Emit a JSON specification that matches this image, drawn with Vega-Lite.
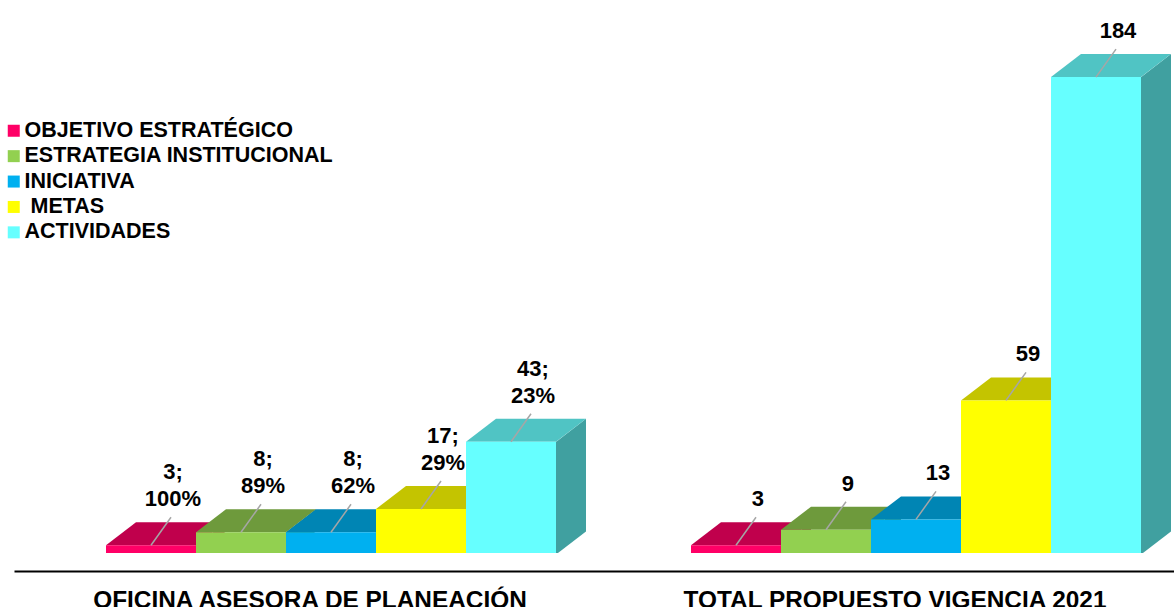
{
  "$schema": "https://vega.github.io/schema/vega-lite/v6.json",
  "width": 1160,
  "height": 553,
  "autosize": {"type": "none"},
  "padding": {"left": 14, "top": 0, "right": 0, "bottom": 54},
  "background": "#ffffff",
  "config": {"view": {"stroke": null}, "font": "Liberation Sans"},
  "data": {"values": [
    {"group": "OFICINA ASESORA DE PLANEACIÓN", "cat": "OBJETIVO ESTRATÉGICO", "value": 3, "label": "3;\n100%"},
    {"group": "OFICINA ASESORA DE PLANEACIÓN", "cat": "ESTRATEGIA INSTITUCIONAL", "value": 8, "label": "8;\n89%"},
    {"group": "OFICINA ASESORA DE PLANEACIÓN", "cat": "INICIATIVA", "value": 8, "label": "8;\n62%"},
    {"group": "OFICINA ASESORA DE PLANEACIÓN", "cat": "\u200b\u00a0METAS", "value": 17, "label": "17;\n29%"},
    {"group": "OFICINA ASESORA DE PLANEACIÓN", "cat": "ACTIVIDADES", "value": 43, "label": "43;\n23%"},
    {"group": "TOTAL PROPUESTO VIGENCIA 2021", "cat": "OBJETIVO ESTRATÉGICO", "value": 3, "label": "\n3"},
    {"group": "TOTAL PROPUESTO VIGENCIA 2021", "cat": "ESTRATEGIA INSTITUCIONAL", "value": 9, "label": "\n9"},
    {"group": "TOTAL PROPUESTO VIGENCIA 2021", "cat": "INICIATIVA", "value": 13, "label": "\n13"},
    {"group": "TOTAL PROPUESTO VIGENCIA 2021", "cat": "\u200b\u00a0METAS", "value": 59, "label": "\n59"},
    {"group": "TOTAL PROPUESTO VIGENCIA 2021", "cat": "ACTIVIDADES", "value": 184, "label": "\n184"}
  ]},
  "encoding": {
    "x": {
      "field": "group", "type": "nominal",
      "sort": ["OFICINA ASESORA DE PLANEACIÓN", "TOTAL PROPUESTO VIGENCIA 2021"],
      "scale": {"type": "band", "paddingInner": 0.179487, "paddingOuter": 0.0811966, "align": 0.968421, "round": false},
      "axis": {
        "title": null, "labelAngle": 0, "ticks": false, "offset": 18,
        "domainColor": "#000000", "domainWidth": 2,
        "labelFontSize": 24.4, "labelFont": "Liberation Sans", "labelFontWeight": "bold",
        "labelColor": "#000000", "labelPadding": 17, "labelOffset": -36, "labelLimit": 0,
        "labelBaseline": "top"
      }
    },
    "xOffset": {
      "field": "cat", "type": "nominal",
      "sort": ["OBJETIVO ESTRATÉGICO", "ESTRATEGIA INSTITUCIONAL", "INICIATIVA", "\u200b\u00a0METAS", "ACTIVIDADES"],
      "scale": {"type": "band", "paddingInner": 0, "paddingOuter": 0.1666667, "align": 0, "round": false}
    },
    "y": {"field": "value", "type": "quantitative", "stack": null, "scale": {"domain": [0, 213.8], "nice": false}, "axis": null}
  },
  "layer": [
    {
      "mark": {"type": "bar", "strokeWidth": 0},
      "encoding": {
        "xOffset": {
          "field": "cat", "type": "nominal",
          "sort": ["OBJETIVO ESTRATÉGICO", "ESTRATEGIA INSTITUCIONAL", "INICIATIVA", "\u200b\u00a0METAS", "ACTIVIDADES"],
          "scale": {"type": "band", "paddingInner": 0.6666667, "paddingOuter": 0.5, "align": 1, "round": false}
        },
        "y2": {"datum": 0},
        "color": {"field": "cat", "type": "nominal", "legend": null,
          "sort": ["OBJETIVO ESTRATÉGICO", "ESTRATEGIA INSTITUCIONAL", "INICIATIVA", "\u200b\u00a0METAS", "ACTIVIDADES"],
          "scale": {"range": ["#a00040", "#5c8030", "#006f96", "#a3a300", "#40a0a0"]}}
      }
    },
    {
      "mark": {"type": "point", "filled": true, "opacity": 1, "size": 22500, "strokeWidth": 0,
        "shape": "M0.59,0.01L1,-0.30667L1,0.01Z"},
      "encoding": {
        "color": {"field": "cat", "type": "nominal", "legend": null,
          "sort": ["OBJETIVO ESTRATÉGICO", "ESTRATEGIA INSTITUCIONAL", "INICIATIVA", "\u200b\u00a0METAS", "ACTIVIDADES"],
          "scale": {"range": ["#a00040", "#5c8030", "#006f96", "#a3a300", "#40a0a0"]}}
      }
    },
    {
      "mark": {"type": "point", "filled": true, "opacity": 1, "size": 22500, "strokeWidth": 0,
        "shape": "M0.6,0.02L1.03,0.02L1.03,-0.31Z", "color": "#ffffff"},
      "encoding": {"y": {"datum": 0}}
    },
    {
      "mark": {"type": "point", "filled": true, "opacity": 1, "size": 22500, "strokeWidth": 0,
        "shape": "M-0.6,0L0.6,0L1,-0.30667L-0.2,-0.30667Z"},
      "encoding": {
        "color": {"field": "cat", "type": "nominal", "legend": null,
          "sort": ["OBJETIVO ESTRATÉGICO", "ESTRATEGIA INSTITUCIONAL", "INICIATIVA", "\u200b\u00a0METAS", "ACTIVIDADES"],
          "scale": {"range": ["#c0004c", "#6e9a3c", "#0085b4", "#c4c400", "#50c4c4"]}}
      }
    },
    {
      "mark": {"type": "bar", "strokeWidth": 0},
      "encoding": {
        "y2": {"datum": 0},
        "color": {"field": "cat", "type": "nominal",
          "sort": ["OBJETIVO ESTRATÉGICO", "ESTRATEGIA INSTITUCIONAL", "INICIATIVA", "\u200b\u00a0METAS", "ACTIVIDADES"],
          "scale": {"range": ["#ff0066", "#92d050", "#00b0f0", "#ffff00", "#66ffff"]},
          "legend": {
            "orient": "none", "legendX": -11, "legendY": 120, "title": null,
            "symbolType": "square", "symbolSize": 144, "symbolStrokeWidth": 0,
            "labelFontSize": 21.5, "labelFont": "Liberation Sans", "labelFontWeight": "bold",
            "labelColor": "#000000", "rowPadding": 2.4, "labelOffset": 0, "padding": 0, "labelLimit": 0
          }
        }
      }
    },
    {
      "mark": {"type": "point", "filled": false, "opacity": 1, "size": 22500, "strokeWidth": 1.5,
        "stroke": "#a6a6a6", "shape": "M0,0L0.2667,-0.3733"},
      "encoding": {}
    },
    {
      "mark": {"type": "text", "dx": 22, "dy": -66, "baseline": "alphabetic", "align": "center",
        "fontSize": 22, "fontWeight": "bold", "font": "Liberation Sans", "color": "#000000",
        "lineBreak": "\n", "lineHeight": 27},
      "encoding": {"text": {"field": "label"}}
    }
  ],
  "resolve": {"scale": {"color": "independent", "xOffset": "independent"}}
}
